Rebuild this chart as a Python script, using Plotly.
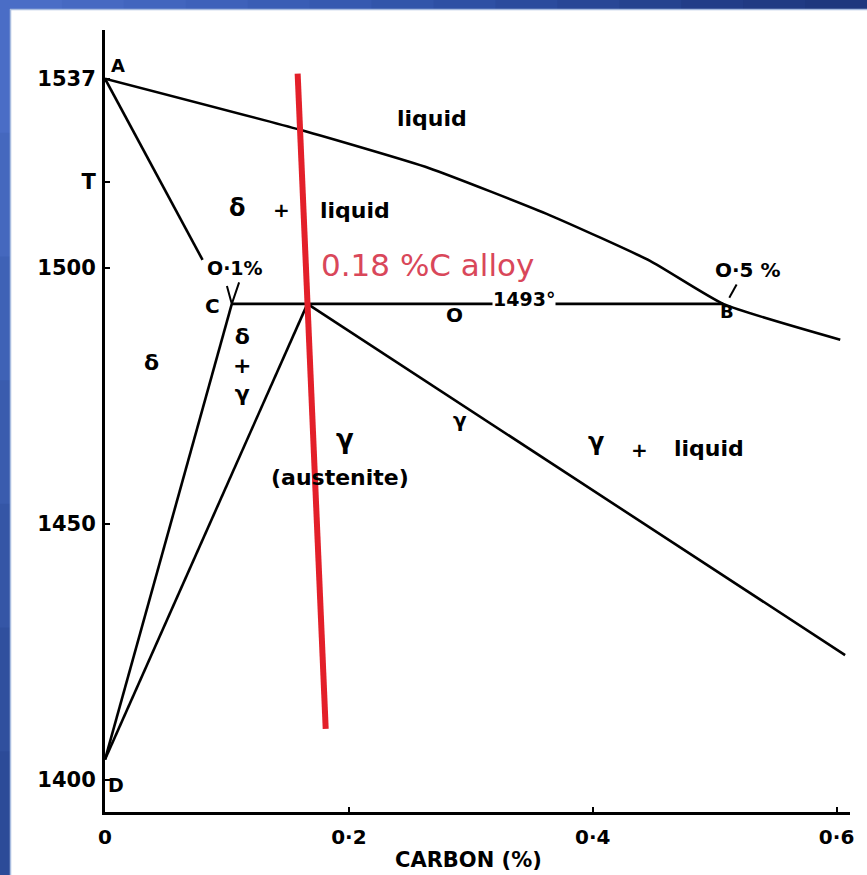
import plotly.graph_objects as go

# ---------------- data ----------------
liquidus_x = [0.0, 0.160, 0.266, 0.365, 0.447, 0.507, 0.603]
liquidus_T = [1537, 1527, 1519.5, 1510.3, 1501.4, 1493, 1486]

delta_solidus_x = [0.0, 0.080]
delta_solidus_T = [1537, 1501.6]

peritectic_x = [0.104, 0.507]
peritectic_T = [1493, 1493]

delta_gamma_x = [0.104, 0.0]        # C -> D
delta_gamma_T = [1493, 1404]

gamma_delta_x = [0.166, 0.0]        # P -> D
gamma_delta_T = [1493, 1404]

gamma_solidus_x = [0.166, 0.607]
gamma_solidus_T = [1493, 1424.4]

alloy_x = [0.158, 0.181]
alloy_T = [1538, 1410]

x_tick_vals = [0, 0.2, 0.4, 0.6]
x_tick_text = ["0", "0·2", "0·4", "0·6"]
y_tick_vals = [1400, 1450, 1500, 1516.8, 1537]
y_tick_text = ["1400", "1450", "1500", "T", "1537"]

W, H = 867, 875
L, R, T, B = 105, 17, 30, 63
PW, PH = W - L - R, H - T - B


def px(xp):
    return (xp - L) / PW


def py(yp):
    return (H - B - yp) / PH


fig = go.Figure()

black = dict(color="black", width=2.6)
fig.add_trace(go.Scatter(x=liquidus_x, y=liquidus_T, mode="lines",
                         line=dict(color="black", width=2.6, shape="spline", smoothing=0.5),
                         showlegend=False, hoverinfo="skip"))
for xs, ts in [(delta_solidus_x, delta_solidus_T),
               (peritectic_x, peritectic_T), (delta_gamma_x, delta_gamma_T),
               (gamma_delta_x, gamma_delta_T), (gamma_solidus_x, gamma_solidus_T)]:
    fig.add_trace(go.Scatter(x=xs, y=ts, mode="lines", line=black,
                             showlegend=False, hoverinfo="skip"))

# small leader marks near C and B
fig.add_trace(go.Scatter(x=[0.100, 0.104, 0.110], y=[1496.5, 1493, 1497.2], mode="lines",
                         line=dict(color="black", width=2), showlegend=False, hoverinfo="skip"))
fig.add_trace(go.Scatter(x=[0.512, 0.518], y=[1494.2, 1496.8], mode="lines",
                         line=dict(color="black", width=2), showlegend=False, hoverinfo="skip"))

fig.add_trace(go.Scatter(x=alloy_x, y=alloy_T, mode="lines",
                         line=dict(color="#e3202a", width=6),
                         showlegend=False, hoverinfo="skip"))

lab = dict(family="DejaVu Sans", size=20, color="black", weight="bold")


def note(text, x, y, size=20, **kw):
    f = dict(lab)
    f["size"] = size
    fig.add_annotation(x=x, y=y, text=text, showarrow=False, font=f, **kw)


note("°C", -0.014, 1543.6, 21)
note("A", 0.0107, 1539.6, 18)
note("liquid", 0.268, 1529.3, 22)
note("δ", 0.109, 1511.8, 24)
note("+", 0.145, 1511.3, 20)
note("liquid", 0.205, 1511.3, 22)
note("O·1%", 0.1066, 1500.0, 19)
note("C", 0.0885, 1492.6, 20)
note("O", 0.287, 1490.8, 20)
note("1493°", 0.344, 1494.0, 19, bgcolor="white", borderpad=0)
note("O·5 %", 0.527, 1499.6, 20)
note("B", 0.510, 1491.6, 18)
note("δ", 0.0385, 1481.6, 22)
note("δ<br>+<br>γ", 0.112, 1481.0, 22)
note("γ", 0.197, 1466.6, 26)
note("(austenite)", 0.1926, 1459.0, 22)
note("γ", 0.291, 1470.3, 20)
note("γ", 0.403, 1466.0, 24)
note("+", 0.438, 1464.5, 20)
note("liquid", 0.495, 1464.8, 22)
note("D", 0.009, 1399.0, 19)

fig.add_annotation(x=0.2648, y=1500.6, text="0.18 %C alloy", showarrow=False,
                   font=dict(family="DejaVu Sans", size=31, color="#d9475a"))

fig.add_annotation(x=0.298, xref="x", y=0, yref="paper", yanchor="top", yshift=-34,
                   text="CARBON (%)", showarrow=False,
                   font=dict(family="DejaVu Sans", size=21, color="black", weight="bold"))

# blue slide frame (left and top strips with gradient)
top_cols = ["#4a6dc6", "#4669c2", "#4265be", "#3e61ba", "#3a5db5", "#3659b0",
            "#3255aa", "#2e50a4", "#2b4b9d", "#284696", "#25428f", "#223d88",
            "#203a83", "#1e377e"]
n = len(top_cols)
for i, c in enumerate(top_cols):
    fig.add_shape(type="rect", xref="paper", yref="paper",
                  x0=px(i * W / n), x1=px((i + 1) * W / n + 1), y0=py(9), y1=py(0),
                  fillcolor=c, line_width=0, layer="above")
left_cols = ["#4a6dc6", "#4568be", "#3f62b6", "#3a5cae", "#3556a6", "#30509e", "#2c4b98"]
m = len(left_cols)
for i, c in enumerate(left_cols):
    fig.add_shape(type="rect", xref="paper", yref="paper",
                  x0=px(0), x1=px(10), y0=py(9 + (i + 1) * (H - 9) / m + 1),
                  y1=py(9 + i * (H - 9) / m),
                  fillcolor=c, line_width=0, layer="above")
fig.add_shape(type="line", xref="paper", yref="paper", x0=px(10), x1=px(W), y0=py(9.5), y1=py(9.5),
              line=dict(color="#a9bde0", width=1.5), layer="above")
fig.add_shape(type="line", xref="paper", yref="paper", x0=px(10.5), x1=px(10.5), y0=py(9), y1=py(H),
              line=dict(color="#a9bde0", width=1.5), layer="above")

fig.update_layout(
    width=W, height=H,
    margin=dict(l=L, r=R, t=T, b=B, autoexpand=False),
    paper_bgcolor="white", plot_bgcolor="white",
    showlegend=False, hovermode=False,
)
fig.update_xaxes(range=[0, 0.611], showgrid=False, zeroline=False,
                 showline=True, linecolor="black", linewidth=3,
                 tickvals=x_tick_vals, ticktext=x_tick_text,
                 ticks="inside", ticklen=5, tickwidth=2, tickcolor="black",
                 ticklabelstandoff=5,
                 tickfont=dict(family="DejaVu Sans", size=20, color="black", weight="bold"))
fig.update_yaxes(range=[1393.75, 1546.5], showgrid=False, zeroline=False,
                 showline=True, linecolor="black", linewidth=3,
                 tickvals=y_tick_vals, ticktext=y_tick_text,
                 ticks="inside", ticklen=5, tickwidth=2, tickcolor="black",
                 ticklabelstandoff=2,
                 tickfont=dict(family="DejaVu Sans", size=21, color="black", weight="bold"))

fig.write_html("out.html", config={"displayModeBar": False},
               post_script="document.body.style.margin='0px';document.body.style.overflow='hidden';")
